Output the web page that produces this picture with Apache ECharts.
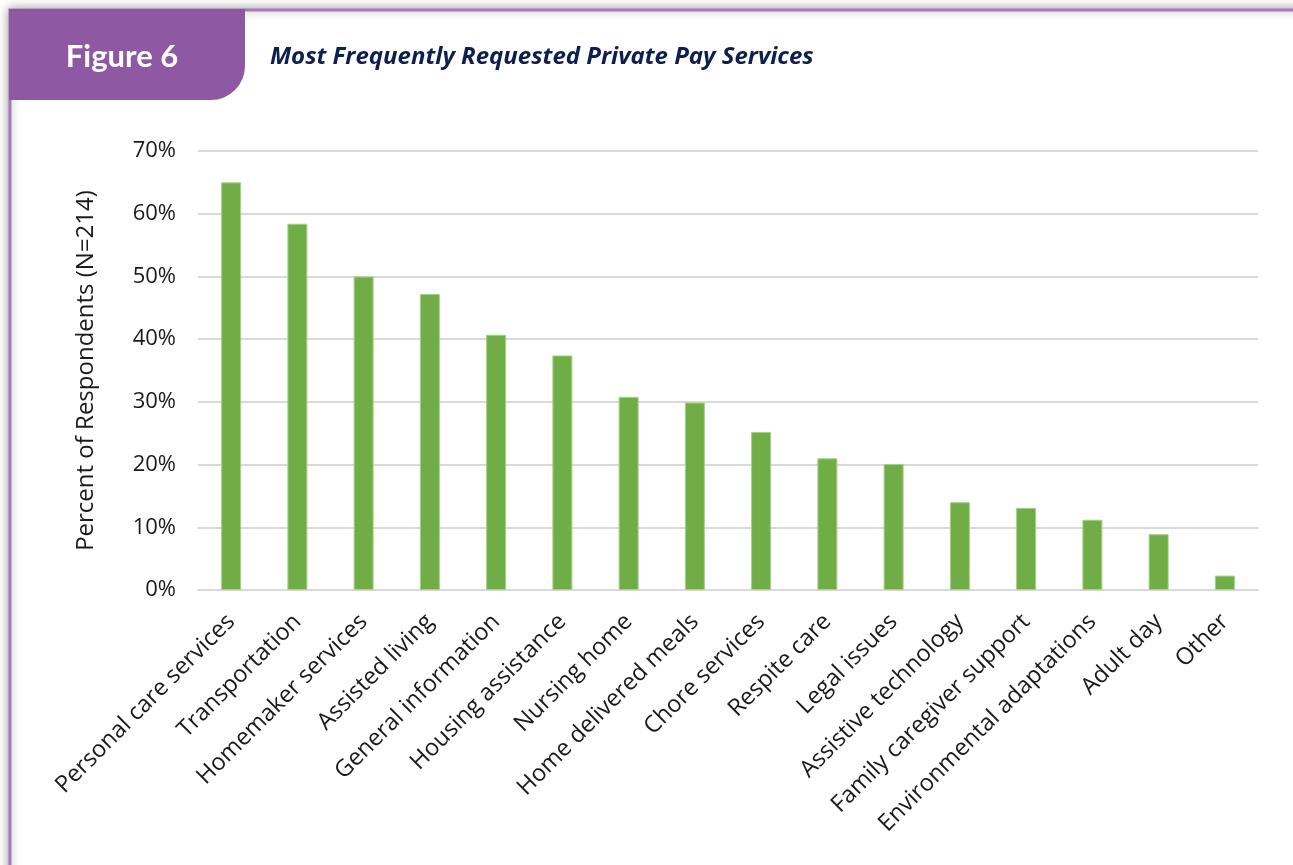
<!DOCTYPE html>
<html>
<head>
<meta charset="utf-8">
<script src="https://cdn.jsdelivr.net/npm/echarts@6/dist/echarts.min.js"></script>
<style>
  html, body { margin: 0; padding: 0; background: #ffffff; }
  #chart { width: 1293px; height: 865px; }
</style>
</head>
<body>
<div id="chart"></div>
<script>
// Services requested, share of respondents (N = 214)
const categories = [
  'Personal care services', 'Transportation', 'Homemaker services', 'Assisted living',
  'General information', 'Housing assistance', 'Nursing home', 'Home delivered meals',
  'Chore services', 'Respite care', 'Legal issues', 'Assistive technology',
  'Family caregiver support', 'Environmental adaptations', 'Adult day', 'Other'
];
const percentValues = [65.0, 58.4, 50.0, 47.2, 40.7, 37.4, 30.8, 29.9, 25.2, 21.0, 20.1, 14.0, 13.1, 11.2, 8.9, 2.3];
const yTicks = [0, 10, 20, 30, 40, 50, 60, 70];

const figureLabel = 'Figure 6';
const figureTitle = 'Most Frequently Requested Private Pay Services';

const purple = '#8f58a3';
const axisFont = '"Open Sans", "Noto Sans", sans-serif';

const chart = echarts.init(document.getElementById('chart'), null, { renderer: 'canvas' });

chart.setOption({
  backgroundColor: '#ffffff',
  animation: false,
  graphic: [
    {
      type: 'rect', z: -10,
      shape: { x: 10, y: 10, width: 1320, height: 900 },
      style: { fill: '#ffffff', stroke: '#a57bbd', lineWidth: 3,
               shadowBlur: 10, shadowColor: 'rgba(0,0,0,0.35)', shadowOffsetX: 0, shadowOffsetY: 0 }
    },
    {
      type: 'rect', z: -9,
      shape: { x: 9, y: 9, width: 236, height: 91, r: [0, 0, 34, 0] },
      style: { fill: purple }
    },
    {
      type: 'text', z: 5,
      style: { text: figureLabel, x: 122, y: 57, align: 'center', verticalAlign: 'middle',
               fill: '#ffffff', font: 'bold 31px Lato, "Open Sans", sans-serif' }
    },
    {
      type: 'text', z: 5,
      style: { text: figureTitle, x: 270, y: 57, align: 'left', verticalAlign: 'middle',
               fill: '#0c1f4e', font: 'italic bold 24px "Open Sans", Lato, sans-serif' }
    }
  ],
  grid: { left: 198, right: 35, top: 151, bottom: 275, containLabel: false },
  xAxis: {
    type: 'category',
    data: categories,
    axisLine: { show: true, lineStyle: { color: '#d9d9d9', width: 2 } },
    axisTick: { show: false },
    axisLabel: {
      interval: 0, rotate: 45, margin: 28,
      color: '#1a1a1a', fontSize: 23.5, fontFamily: axisFont
    }
  },
  yAxis: {
    type: 'value',
    min: 0, max: 70, interval: 10,
    name: 'Percent of Respondents (N=214)',
    nameLocation: 'middle', nameGap: 100, nameRotate: 90,
    nameTextStyle: { color: '#1a1a1a', fontSize: 24, fontFamily: axisFont },
    axisLine: { show: false },
    axisTick: { show: false },
    axisLabel: {
      margin: 22, color: '#1a1a1a', fontSize: 22, fontFamily: axisFont,
      formatter: v => (yTicks.includes(v) ? v + '%' : '')
    },
    splitLine: { lineStyle: { color: '#d9d9d9', width: 2 } }
  },
  series: [{
    type: 'bar',
    data: percentValues,
    barWidth: 20,
    itemStyle: { color: '#70ad47', borderColor: '#a6d08a', borderWidth: 1 }
  }]
});
</script>
</body>
</html>
